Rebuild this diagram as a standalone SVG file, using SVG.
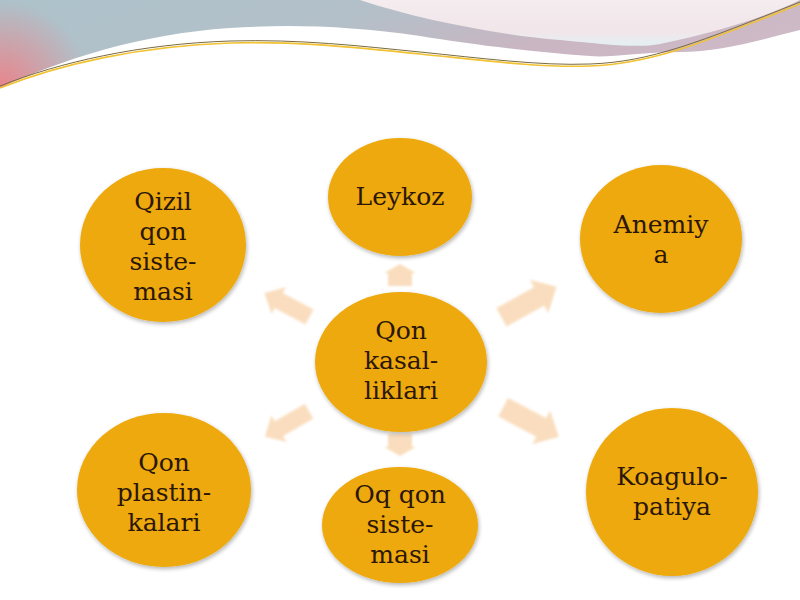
<svg xmlns="http://www.w3.org/2000/svg" width="800" height="600" viewBox="0 0 800 600">
<defs>
<linearGradient id="band" x1="0" y1="0" x2="1" y2="0.3">
<stop offset="0" stop-color="#ADC2CA"/>
<stop offset="0.45" stop-color="#B3C0C9"/>
<stop offset="0.75" stop-color="#C9B6C2"/>
<stop offset="1" stop-color="#CDBAC6"/>
</linearGradient>
<radialGradient id="pinkL" cx="0" cy="90" r="90" gradientUnits="userSpaceOnUse">
<stop offset="0" stop-color="#EE7F86" stop-opacity="0.95"/>
<stop offset="1" stop-color="#EE7F86" stop-opacity="0"/>
</radialGradient>
<linearGradient id="bubble" x1="0" y1="0" x2="0" y2="1">
<stop offset="0" stop-color="#F4ECEE"/>
<stop offset="0.7" stop-color="#F1E6EA"/>
<stop offset="1" stop-color="#E3F0F4"/>
</linearGradient>
<filter id="sh" x="-20%" y="-20%" width="140%" height="140%">
<feGaussianBlur in="SourceAlpha" stdDeviation="2"/>
<feOffset dx="1" dy="2"/>
<feComponentTransfer><feFuncA type="linear" slope="0.3"/></feComponentTransfer>
<feMerge><feMergeNode/><feMergeNode in="SourceGraphic"/></feMerge>
</filter>
<filter id="soft"><feGaussianBlur stdDeviation="1.2"/></filter>
<clipPath id="bandClip">
<path d="M0,0 H800 V30 C760,40 720,52 680,52 C640,52 610,58 590,56 C530,52 470,44 420,36 C350,26 290,24 230,28 C140,34 60,60 0,88 Z"/>
</clipPath>
<path id="arr" d="M-30,-10 L11,-10 L11,-18 L30,0 L11,18 L11,10 L-30,10 Z"/>
<path id="arrS" d="M-11,-12 L2,-12 L2,-16 L11,0 L2,16 L2,12 L-11,12 Z"/>
</defs>
<style>
.node ellipse{fill:#EDA90A;filter:url(#sh);}
.node text{font-family:"DejaVu Serif","Liberation Serif",serif;font-size:25px;fill:#2B1608;text-anchor:middle;}
.conn use{fill:#F6C893;opacity:0.6;filter:url(#soft);}
</style>
<rect width="800" height="600" fill="#FFFFFF"/>
<g id="background">
<path d="M0,0 H800 V30 C760,40 720,52 680,52 C640,52 610,58 590,56 C530,52 470,44 420,36 C350,26 290,24 230,28 C140,34 60,60 0,88 Z" fill="url(#band)"/>
<rect x="0" y="0" width="120" height="90" fill="url(#pinkL)" clip-path="url(#bandClip)"/>
<path d="M360,0 C420,20 500,35 560,40 C610,45 640,48 660,44 C720,32 770,15 800,0 Z" fill="url(#bubble)"/>
<path d="M0,86 C60,62 140,44 230,41 C300,39 360,46 420,52 C480,58 540,66 590,64 C650,62 700,42 800,2" fill="none" stroke="#7A6A40" stroke-width="1"/>
<path d="M0,88 C60,64 140,46 230,43 C300,41 360,48 420,54 C480,60 540,68 590,66 C650,64 700,44 800,4" fill="none" stroke="#F1C232" stroke-width="1.6"/>
</g>
<g id="connectors" class="conn">
<use href="#arrS" transform="translate(400,275) rotate(-90)"/>
<use href="#arrS" transform="translate(400,445) rotate(90)"/>
<use href="#arr" transform="translate(287,305) rotate(208) scale(0.85)"/>
<use href="#arr" transform="translate(529,302) rotate(-29) scale(1.05)"/>
<use href="#arr" transform="translate(287,424) rotate(150) scale(0.85)"/>
<use href="#arr" transform="translate(531,422) rotate(28) scale(1.05)"/>
</g>
<g id="center" class="node">
<ellipse cx="401" cy="362" rx="86" ry="70"/>
<text x="401" y="339">Qon</text>
<text x="401" y="369">kasal-</text>
<text x="401" y="399">liklari</text>
</g>
<g id="leykoz" class="node">
<ellipse cx="400" cy="197" rx="72" ry="59"/>
<text x="400" y="205">Leykoz</text>
</g>
<g id="qizil" class="node">
<ellipse cx="163" cy="245" rx="83" ry="77"/>
<text x="163" y="210">Qizil</text>
<text x="163" y="240">qon</text>
<text x="163" y="270">siste-</text>
<text x="163" y="300">masi</text>
</g>
<g id="anemiya" class="node">
<ellipse cx="661" cy="239" rx="81" ry="74"/>
<text x="661" y="233">Anemiy</text>
<text x="661" y="263">a</text>
</g>
<g id="plastin" class="node">
<ellipse cx="164" cy="490" rx="87" ry="77"/>
<text x="164" y="471">Qon</text>
<text x="164" y="501">plastin-</text>
<text x="164" y="531">kalari</text>
</g>
<g id="oqqon" class="node">
<ellipse cx="400" cy="525" rx="78" ry="58"/>
<text x="400" y="503">Oq qon</text>
<text x="400" y="533">siste-</text>
<text x="400" y="563">masi</text>
</g>
<g id="koagulo" class="node">
<ellipse cx="672" cy="492" rx="86" ry="84"/>
<text x="672" y="485">Koagulo-</text>
<text x="672" y="515">patiya</text>
</g>
</svg>
